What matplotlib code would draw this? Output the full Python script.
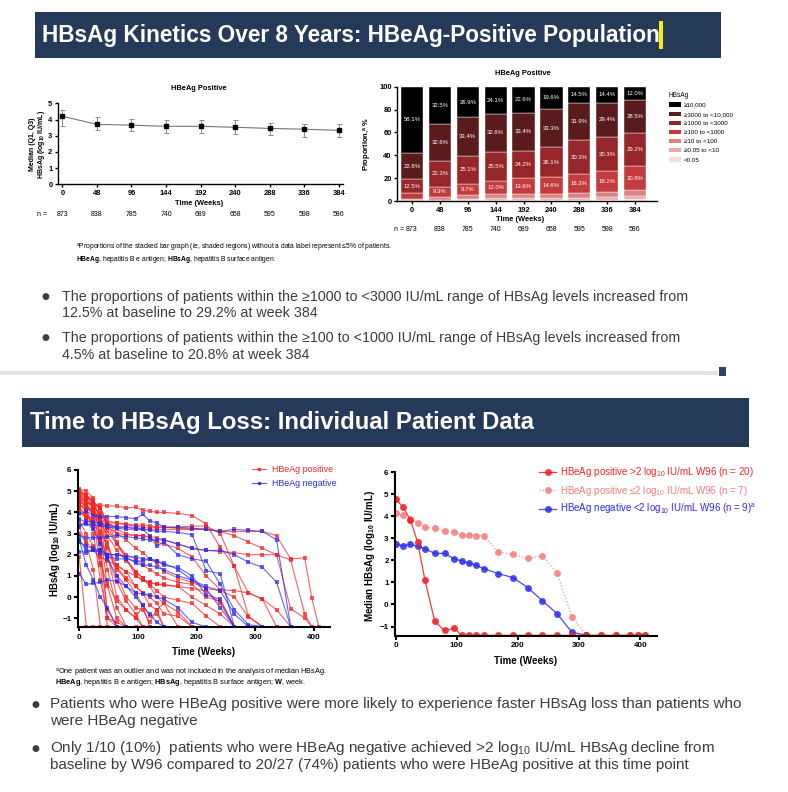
#!/usr/bin/env python3
import matplotlib

matplotlib.use("Agg")
import matplotlib.pyplot as plt
from matplotlib.lines import Line2D
from matplotlib.patches import Patch, Rectangle
from matplotlib.transforms import blended_transform_factory

# ---- top left: median (Q1, Q3) HBsAg over time, HBeAg positive
kin_weeks = [0, 48, 96, 144, 192, 240, 288, 336, 384]
kin_median = [4.2, 3.7, 3.65, 3.58, 3.58, 3.52, 3.45, 3.4, 3.33]
kin_q1 = [3.6, 3.35, 3.3, 3.15, 3.15, 3.1, 3.05, 2.95, 2.9]
kin_q3 = [4.6, 4.15, 4.05, 4.0, 4.0, 3.95, 3.8, 3.75, 3.7]
kin_n = [873, 838, 785, 740, 689, 658, 595, 598, 586]

# ---- top right: stacked proportions (bottom level first)
levels = ["<0.05", "≥0.05 to <10", "≥10 to <100", "≥100 to <1000",
          "≥1000 to <3000", "≥3000 to <10,000", "≥10,000"]
level_colors = ["#f7dede", "#e9a9ab", "#d98385", "#c43b3e", "#96262a", "#5a1b1d", "#000000"]
pct_lt005 = [0.3, 0.4, 0.7, 0.9, 0.9, 1.0, 1.0, 1.1, 1.5]
pct_005_10 = [0.6, 0.9, 1.4, 1.7, 1.8, 1.8, 2.0, 2.3, 3.0]
pct_10_100 = [1.2, 2.0, 2.8, 3.2, 3.5, 3.6, 4.0, 4.3, 5.0]
pct_100_1000 = [4.5, 9.3, 9.7, 12.0, 13.6, 14.6, 16.3, 18.2, 20.8]
pct_1000_3000 = [12.5, 22.3, 25.1, 25.5, 24.2, 26.1, 30.3, 30.3, 29.2]
pct_3000_10000 = [22.8, 32.6, 33.4, 32.6, 33.4, 33.3, 31.9, 29.4, 28.5]
pct_ge10000 = [58.1, 32.5, 26.9, 24.1, 22.6, 19.6, 14.5, 14.4, 12.0]

# ---- bottom: visit weeks and individual patient HBsAg (log10 IU/mL)
visits = [0, 12, 24, 36, 48, 64, 80, 96, 108, 120, 132, 144, 168, 192, 216,
          240, 264, 288, 312, 336, 360, 384, 396, 408]
pos_patients = [
    [4.6, 4.5, 4.4, 4.35, 4.3, 4.3, 4.2, 4.25, 4.1, 4.05, 4.0, 4.0, 3.95, 3.85, 3.45, 2.35, 1.45, -0.9, -1.4, -1.4],
    [4.2, 3.8, 3.7, 3.6, 3.5, 3.5, 3.45, 3.4, 3.4, 3.35, 3.3, 3.3, 3.25, 3.2, 3.2, 3.1, 3.1, 3.1, 3.1, 2.9, 1.8, 1.85, -0.05, -1.4],
    [4.4, 4.2, 3.9, 3.7, 3.5, 3.3, 3.3, 3.2, 3.2, 3.2, 3.2, 3.2, 3.2, 3.2, 3.2, 3.1, 2.9, 2.6, 2.3, 2.0, 1.75, -0.8, -1.4],
    [4.5, 4.3, 4.0, 3.8, 3.6, 3.5, 3.4, 3.35, 3.3, 3.25, 3.3, 3.3, 3.3, 3.35, 3.35, 3.0, 1.45, 0.2, -0.1, -1.4],
    [4.8, 4.5, 4.2, 3.5, 3.3, 3.0, 2.95, 2.9, 2.9, 2.85, 2.8, 2.7, 2.5, 2.3, 2.2, 2.15, 2.1, 2.0, 2.0, 2.0, -0.55, -1.0, -1.4],
    [5.0, 4.7, 4.5, 4.2, 3.5, 3.2, 3.0, 2.9, 2.9, 2.8, 2.6, 2.5, 2.3, 1.9, 1.0, 0.35, 0.3, 0.2, -0.1, -0.6, -1.4],
    [4.9, 4.6, 4.3, 3.9, 3.5, 3.0, 2.7, 2.3, 2.1, 1.8, 1.6, 1.2, 0.9, 0.7, 0.4, 0.3, 0.0, -0.95, -1.4],
    [4.7, 4.4, 4.0, 3.7, 3.1, 2.5, 2.0, 1.8, 1.5, 1.3, 1.1, 0.9, 0.7, 0.6, 0.0, -0.2, -1.4, -1.4],
    [5.1, 4.8, 4.5, 4.1, 3.3, 2.5, 1.8, 1.0, 0.8, 0.7, 0.6, 0.55, 0.5, 0.4, 0.3, -0.3, -1.4],
    [4.3, 4.2, 4.0, 3.6, 2.9, 2.2, 1.7, 1.2, 0.9, 0.6, 0.3, 0.0, -0.15, -0.3, -0.9, -1.4],
    [4.0, 3.8, 3.5, 3.1, 2.4, 1.5, 1.2, 0.5, 0.2, 0.0, -0.3, -0.8, -0.9, -1.4],
    [4.6, 4.3, 4.0, 3.4, 2.3, 1.3, 0.8, 0.2, -0.4, -0.9, -0.8, -1.4],
    [4.9, 4.7, 4.4, 3.8, 2.6, 1.0, 0.0, -0.5, -0.6, -1.2, -0.6, -1.4],
    [4.2, 3.9, 3.5, 2.8, 1.9, 0.7, -0.2, -0.8, -1.4, -1.4],
    [4.7, 4.5, 4.3, 3.9, 2.0, 0.0, -0.6, -1.0, -0.4, -1.4],
    [5.0, 4.8, 4.6, 3.5, 1.3, -0.5, -1.4, -1.4],
    [4.5, 4.3, 4.1, 3.0, 0.5, -1.0, -1.4],
    [4.8, 4.6, 4.2, 2.0, -0.6, -1.4, -1.4],
    [5.1, 5.0, 4.7, 2.6, -1.0, -1.2, -1.4],
    [4.4, 4.0, 3.6, 1.5, -1.4, -1.4],
    [3.3, 2.5, 1.3, -1.4, -1.4],
    [1.9, -1.4, -1.4, -1.4],
    [4.6, 4.2, 3.0, 0.8, -1.0, -1.4],
    [3.6, 3.0, 2.4, 1.6, 0.6, -0.2, -0.6, -1.0, -1.4],
    [4.1, 3.7, 3.3, 2.6, 2.0, 1.4, 0.9, 0.5, 0.2, -0.4, -0.6, -0.3, -1.4],
    [3.0, 2.6, 2.2, 1.9, 1.7, 1.5, 1.2, 1.0, 0.8, 0.7, 0.6, 0.6, 0.5, 0.0, -0.4, -0.8, -1.4],
    [5.0, 4.8, 4.4, 4.2, 3.5, 2.6, 1.8, 1.2, 0.9, 0.5, 0.0, -0.3, -0.7, -1.4],
]
neg_patients = [
    [3.9, 4.05, 3.85, 3.8, 3.8, 3.8, 3.75, 3.7, 3.9, 3.6, 3.5, 3.3, 3.3, 3.25, 3.2, 3.1, 3.2, 3.15, 3.1, 2.7, -1.4],
    [3.4, 3.45, 3.4, 3.4, 3.3, 3.25, 3.2, 3.2, 3.2, 3.15, 3.1, 3.1, 3.05, 2.95, 1.25, 1.1, -1.4],
    [2.9, 2.8, 2.8, 2.8, 2.85, 2.9, 2.85, 2.8, 2.75, 2.7, 2.7, 2.7, 2.5, 2.3, 2.2, 2.2, 2.0, 1.65, 1.4, 0.7, -1.4],
    [3.3, 3.6, 3.55, 3.5, 3.4, 3.3, 3.3, 3.3, 3.2, 2.9, 2.4, 2.6, 2.0, 1.8, 1.7, 0.6, -0.6, -1.3, -1.4],
    [2.7, 2.2, 2.2, 2.2, 2.0, 2.0, 1.9, 1.6, 1.5, 1.5, 1.4, 1.3, 1.0, 0.8, 0.5, 0.3, -0.8, -1.4],
    [2.15, 2.1, 2.2, 2.1, 1.9, 1.8, 1.8, 1.7, 1.7, 1.8, 1.7, 1.5, 1.4, 1.0, 0.1, -0.1, -1.4],
    [1.1, 0.6, 0.65, 0.7, 0.8, 0.75, 0.5, 0.2, 0.15, 0.1, 0.0, -0.1, -0.5, -1.2, -1.4],
    [2.7, 1.5, 0.8, 0.0, -0.5, -1.4, -1.4],
    [3.7, 3.5, 3.2, 2.5, 1.8, 1.0, 0.5, 0.0, -0.4, -0.8, -1.2, -1.4],
    [2.6, 2.4, 2.3, 2.2, 2.0, 2.0, 1.9, 1.9, 1.8, 1.8, 1.7, 1.6, 1.3, 0.8, 0.4, -0.5, -1.4],
]

# ---- bottom right: medians by group
med_pos_fast = [4.8, 4.42, 3.85, 2.83, 1.1, -0.76, -1.18, -1.08] + [-1.4] * 16
med_pos_slow = [4.17, 4.05, 3.87, 3.72, 3.5, 3.47, 3.33, 3.3, 3.17, 3.17, 3.12, 3.12,
                2.37, 2.28, 2.1, 2.2, 1.44, -0.55] + [-1.4] * 6
med_neg = [2.73, 2.67, 2.73, 2.65, 2.53, 2.32, 2.32, 2.07, 1.98, 1.87, 1.78, 1.63,
           1.4, 1.22, 0.77, 0.17, -0.41, -1.25, -1.4]
med_labels = ["HBeAg positive >2 log$_{10}$ IU/mL W96 (n = 20)",
              "HBeAg positive ≤2 log$_{10}$ IU/mL W96 (n = 7)",
              "HBeAg negative <2 log$_{10}$ IU/mL W96 (n = 9)$^{a}$"]

W, H = 788, 792
NAVY = "#243a58"
GREY_TXT = "#3d3d3d"
RED = "#f22525"
BLUE = "#2b2bf0"
PINK = "#f47c7c"

plt.rcParams["font.family"] = ["Liberation Sans", "DejaVu Sans"]
plt.rcParams["mathtext.fontset"] = "custom"
plt.rcParams["mathtext.rm"] = "Liberation Sans"
plt.rcParams["mathtext.it"] = "Liberation Sans:italic"
plt.rcParams["mathtext.bf"] = "Liberation Sans:bold"
plt.rcParams["mathtext.default"] = "regular"

fig = plt.figure(figsize=(W / 100, H / 100), dpi=100)


def box(x0, y0, x1, y1):
    return [x0 / W, 1 - y1 / H, (x1 - x0) / W, (y1 - y0) / H]


def frect(x0, y0, x1, y1, color):
    fig.add_artist(Rectangle((x0 / W, 1 - y1 / H), (x1 - x0) / W, (y1 - y0) / H,
                             transform=fig.transFigure, facecolor=color, edgecolor="none", zorder=0))


def ftext(x, y, s, **kw):
    kw.setdefault("va", "center")
    return fig.text(x / W, 1 - y / H, s, **kw)


def style_axis(ax, lw, size, tick_len):
    for side in ("top", "right"):
        ax.spines[side].set_visible(False)
    for side in ("left", "bottom"):
        ax.spines[side].set_linewidth(lw)
    ax.tick_params(width=lw, length=tick_len, labelsize=size, pad=1.5)
    plt.setp(ax.get_xticklabels() + ax.get_yticklabels(), fontweight="bold")


# ---------------- slide 1 ----------------
frect(35, 12, 721, 58, NAVY)
ftext(42, 35.5, "HBsAg Kinetics Over 8 Years: HBeAg-Positive Population", color="white",
      fontsize=16.3, fontweight="bold")
frect(659, 21, 663, 49, "#f2f20c")

# top left line chart
ax1 = fig.add_axes(box(58, 103.3, 342.7, 184.3))
yerr = [[m - q for m, q in zip(kin_median, kin_q1)], [q - m for m, q in zip(kin_median, kin_q3)]]
ax1.errorbar(kin_weeks, kin_median, yerr=yerr, fmt="s-", color="#777777", mfc="black", mec="black",
             ms=2.6, lw=0.8, ecolor="#8a8a8a", elinewidth=0.7, capsize=1.8, capthick=0.7)
ax1.set_xlim(-6, 389.5)
ax1.set_ylim(0, 5)
ax1.set_xticks(kin_weeks)
ax1.set_yticks(range(6))
style_axis(ax1, 1.0, 5.4, 2.5)
ftext(199, 89, "HBeAg Positive", ha="center", fontsize=5.4, fontweight="bold")
ftext(199, 203.3, "Time (Weeks)", ha="center", fontsize=5.4, fontweight="bold")
ftext(38, 144, "Median (Q1, Q3)\nHBsAg (log$_{\\mathbf{10}}$ IU/mL)", ha="center", rotation=90,
      fontsize=5.0, fontweight="bold", linespacing=1.1)
ftext(37, 214.3, "n =", fontsize=5.0)
tr1 = blended_transform_factory(ax1.transData, fig.transFigure)
for w, n in zip(kin_weeks, kin_n):
    ax1.text(w, 1 - 214.3 / H, str(n), transform=tr1, ha="center", va="center", fontsize=5.0)

# top right stacked bars
ax2 = fig.add_axes(box(397.3, 86.7, 656.7, 201))
shares = [pct_lt005, pct_005_10, pct_10_100, pct_100_1000, pct_1000_3000, pct_3000_10000, pct_ge10000]
xpos = list(range(len(kin_weeks)))
base = [0.0] * len(xpos)
for vals, col in zip(shares, level_colors):
    ax2.bar(xpos, vals, 0.8, bottom=base, color=col, edgecolor="white", linewidth=0.3)
    for x, v, b in zip(xpos, vals, base):
        if v > 5:
            ax2.text(x, b + v / 2, f"{v:.1f}%", ha="center", va="center", color="white", fontsize=4.3)
    base = [b + v for b, v in zip(base, vals)]
ax2.set_xlim(-0.53, 8.78)
ax2.set_ylim(0, 100)
ax2.set_xticks(xpos)
ax2.set_xticklabels([str(w) for w in kin_weeks])
ax2.set_yticks(range(0, 101, 20))
style_axis(ax2, 1.0, 5.4, 2.5)
ftext(523, 73.3, "HBeAg Positive", ha="center", fontsize=5.4, fontweight="bold")
ftext(520, 219.3, "Time (Weeks)", ha="center", fontsize=5.4, fontweight="bold")
ftext(368, 144, "Proportion,$^{\\mathbf{a}}$ %", ha="center", rotation=90, fontsize=5.4, fontweight="bold")
ftext(394, 229.3, "n =", fontsize=5.0)
tr2 = blended_transform_factory(ax2.transData, fig.transFigure)
for x, n in zip(xpos, kin_n):
    ax2.text(x, 1 - 229.3 / H, str(n), transform=tr2, ha="center", va="center", fontsize=5.0)
handles = [Patch(facecolor=c, edgecolor="none") for c in level_colors[::-1]]
ax2.legend(handles, levels[::-1], title="HBsAg", loc="upper left",
           bbox_to_anchor=(663 / W, 1 - 86 / H), bbox_transform=fig.transFigure,
           frameon=False, fontsize=4.5, title_fontsize=4.7, handlelength=2.0,
           handleheight=0.7, labelspacing=0.6, handletextpad=0.5, alignment="left")

ftext(76, 248.5, "$^{a}$Proportions of the stacked bar graph (ie, shaded regions) without a data label represent ≤5% of patients.",
      fontsize=4.9)
ftext(76, 259.5, "$\\mathbf{HBeAg}$, hepatitis B e antigen; $\\mathbf{HBsAg}$, hepatitis B surface antigen.",
      fontsize=4.9)

top_bullets = [
    ("The proportions of patients within the ≥1000 to <3000 IU/mL range of HBsAg levels increased from",
     "12.5% at baseline to 29.2% at week 384"),
    ("The proportions of patients within the ≥100 to <1000 IU/mL range of HBsAg levels increased from",
     "4.5% at baseline to 20.8% at week 384"),
]
for (l1, l2), y in zip(top_bullets, (297, 338)):
    ftext(42, y, "●", fontsize=6.5, color=GREY_TXT, family="DejaVu Sans")
    ftext(62, y, l1, fontsize=10.3, color=GREY_TXT)
    ftext(62, y + 16.5, l2, fontsize=10.3, color=GREY_TXT)

frect(0, 370.5, 718, 374.5, "#e2e2e2")
frect(719, 367, 726, 376, "#2e4466")

# ---------------- slide 2 ----------------
frect(22, 398, 749, 447, NAVY)
ftext(30, 423, "Time to HBsAg Loss: Individual Patient Data", color="white",
      fontsize=17.2, fontweight="bold")

# bottom left: individual patients
ax3 = fig.add_axes(box(77.7, 470, 330, 627.3))
for vals in pos_patients:
    ax3.plot(visits[:len(vals)], vals, "-s", color=RED, alpha=0.72, lw=0.8, ms=2.4, mew=0)
for vals in neg_patients:
    ax3.plot(visits[:len(vals)], vals, "-s", color=BLUE, alpha=0.72, lw=0.8, ms=2.4, mew=0)
ax3.set_xlim(-2.7, 427)
ax3.set_ylim(-1.43, 6)
ax3.set_xticks(range(0, 401, 100))
ax3.set_yticks(range(-1, 7))
style_axis(ax3, 1.5, 5.8, 3)
ax3.legend([Line2D([], [], color=RED, marker="s", ms=2, lw=0.8, alpha=0.8),
            Line2D([], [], color=BLUE, marker="s", ms=2, lw=0.8, alpha=0.8)],
           ["HBeAg positive", "HBeAg negative"], loc="upper left",
           bbox_to_anchor=(244 / W, 1 - 457.5 / H), bbox_transform=fig.transFigure,
           frameon=False, fontsize=6.4, labelcolor=[RED, BLUE], handlelength=1.6,
           handletextpad=0.6, labelspacing=0.55)
ftext(204, 651.7, "Time (Weeks)", ha="center", fontsize=7, fontweight="bold")
ftext(55, 549, "HBsAg (log$_{\\mathbf{10}}$ IU/mL)", ha="center", rotation=90, fontsize=7, fontweight="bold")
ftext(55, 672.5, "$^{a}$One patient was an outlier and was not included in the analysis of median HBsAg.",
      fontsize=5.3)
ftext(55, 683, "$\\mathbf{HBeAg}$, hepatitis B e antigen; $\\mathbf{HBsAg}$, hepatitis B surface antigen; $\\mathbf{W}$, week.",
      fontsize=5.3)

# bottom right: medians
ax4 = fig.add_axes(box(395, 472.3, 656.7, 636))
ax4.plot(visits[:len(med_pos_slow)], med_pos_slow, ":o", color=PINK, alpha=0.85, lw=0.9, ms=5, mew=0,
         label=med_labels[1])
ax4.plot(visits[:len(med_neg)], med_neg, "-o", color=BLUE, alpha=0.85, lw=0.9, ms=5, mew=0,
         label=med_labels[2])
ax4.plot(visits[:len(med_pos_fast)], med_pos_fast, "-o", color=RED, alpha=0.9, lw=0.9, ms=5, mew=0,
         label=med_labels[0])
ax4.set_xlim(-1, 427)
ax4.set_ylim(-1.43, 6)
ax4.set_xticks(range(0, 401, 100))
ax4.set_yticks(range(-1, 7))
style_axis(ax4, 1.5, 5.8, 3)
h, l = ax4.get_legend_handles_labels()
order = [2, 0, 1]
ax4.legend([h[i] for i in order], [l[i] for i in order], loc="upper left",
           bbox_to_anchor=(530 / W, 1 - 456.5 / H), bbox_transform=fig.transFigure,
           frameon=False, fontsize=7, labelcolor="linecolor", handlelength=1.8,
           handletextpad=0.4, labelspacing=0.45)
ftext(525.7, 661, "Time (Weeks)", ha="center", fontsize=7, fontweight="bold")
ftext(370, 556, "Median HBsAg (log$_{\\mathbf{10}}$ IU/mL)", ha="center", rotation=90,
      fontsize=7, fontweight="bold")

bottom_bullets = [
    ("Patients who were HBeAg positive were more likely to experience faster HBsAg loss than patients who",
     "were HBeAg negative"),
    ("Only 1/10 (10%)  patients who were HBeAg negative achieved >2 log$_{10}$ IU/mL HBsAg decline from",
     "baseline by W96 compared to 20/27 (74%) patients who were HBeAg positive at this time point"),
]
for (l1, l2), y in zip(bottom_bullets, (704, 748)):
    ftext(31, y, "●", fontsize=6.5, color=GREY_TXT, family="DejaVu Sans")
    ftext(50, y, l1, fontsize=11, color=GREY_TXT)
    ftext(50, y + 17, l2, fontsize=11, color=GREY_TXT)

fig.savefig("out.png", dpi=100)
